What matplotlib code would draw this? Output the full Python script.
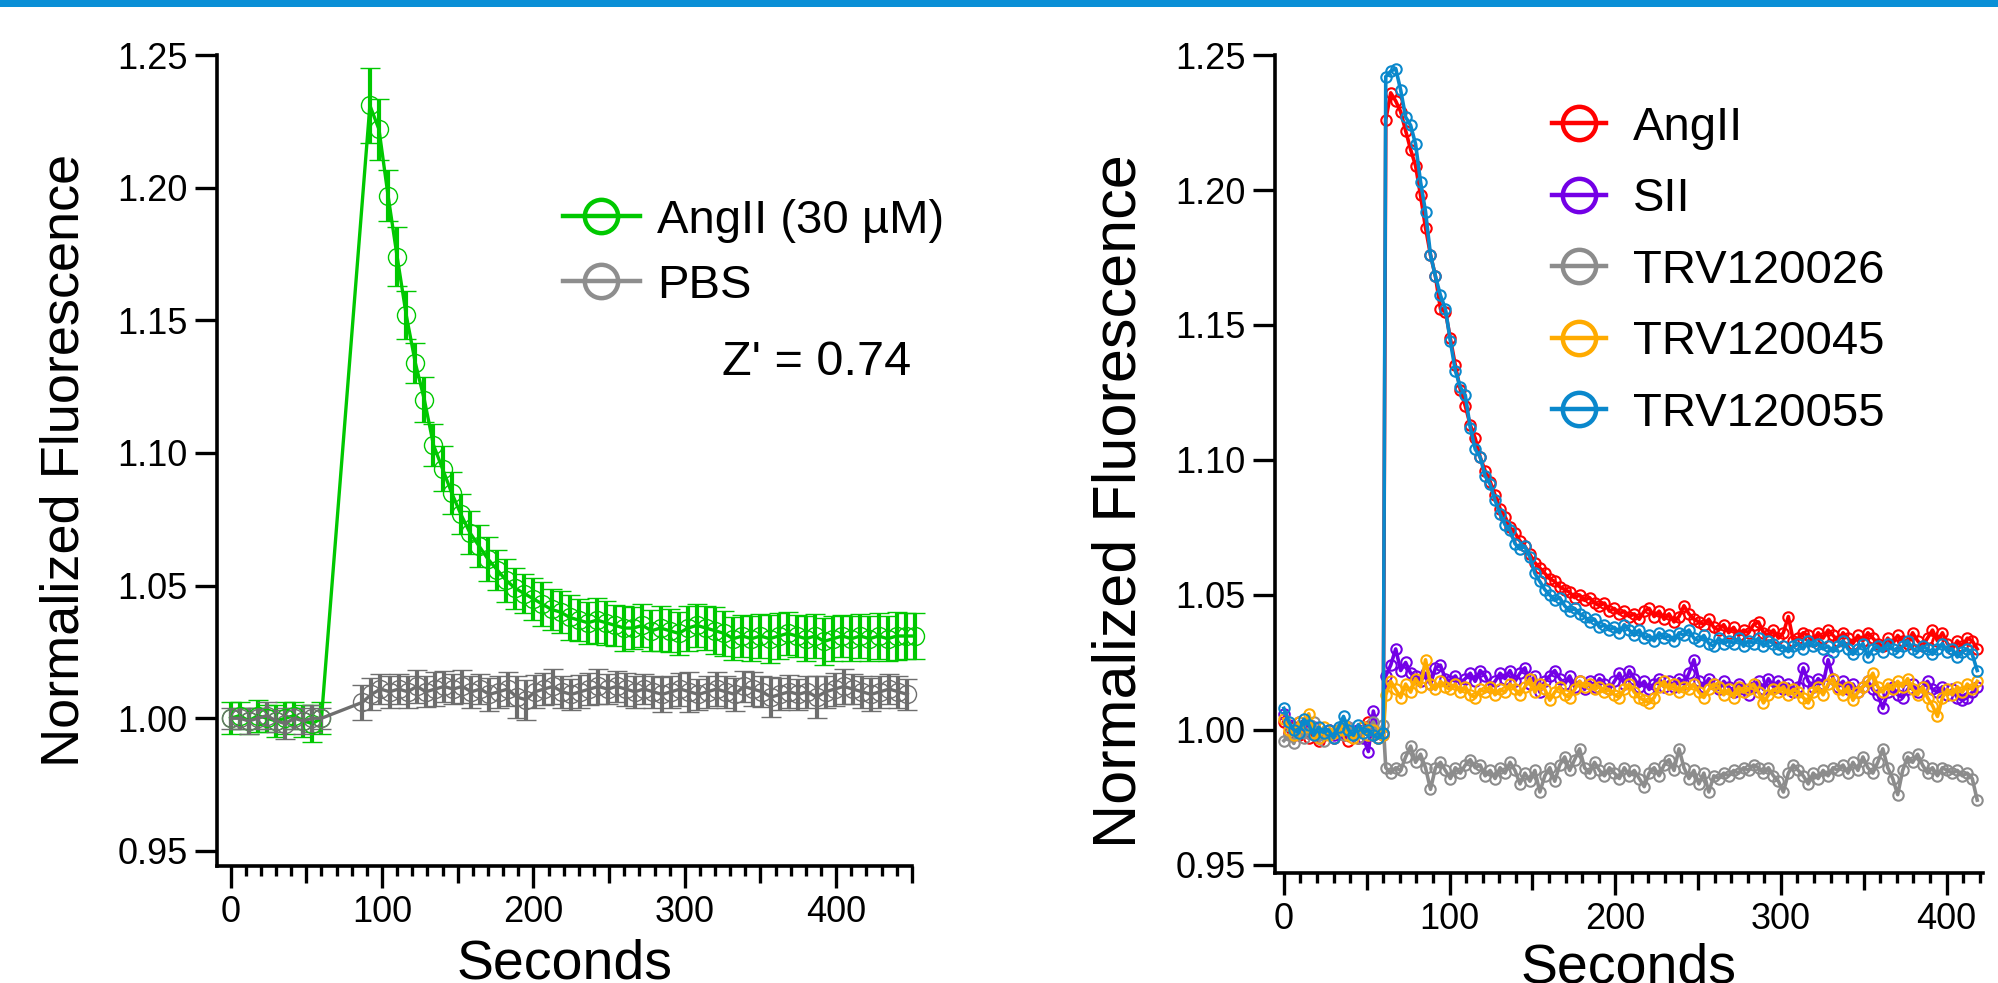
import numpy as np
import matplotlib
matplotlib.use('Agg')
import matplotlib.pyplot as plt
from matplotlib.lines import Line2D
from matplotlib.patches import Rectangle
from matplotlib.ticker import MultipleLocator, FixedLocator, FormatStrFormatter

plt.rcParams['font.family'] = ['Liberation Sans', 'DejaVu Sans']

# ---------------- left panel: AngII (30 uM) vs PBS, mean +/- SEM ----------------
base_t = np.arange(0, 61, 6)
ang_t_post = np.arange(92, 453, 6)
pbs_t_post = np.arange(87, 448, 6)

ang_base = [1.000, 1.001, 0.999, 1.001, 1.000, 0.999, 1.000, 1.001, 0.999, 0.998, 1.000]
ang_base_sem = [0.006, 0.005, 0.005, 0.006, 0.005, 0.006, 0.006, 0.005, 0.006, 0.007, 0.006]
ang_post = [
    1.231, 1.222, 1.197, 1.174, 1.152, 1.134, 1.120, 1.103, 1.094, 1.085,
    1.077, 1.070, 1.065, 1.060, 1.056, 1.052, 1.049, 1.047, 1.045, 1.043,
    1.041, 1.040, 1.038, 1.037, 1.036, 1.037, 1.036, 1.035, 1.034, 1.034,
    1.035, 1.033, 1.034, 1.033, 1.032, 1.034, 1.035, 1.034, 1.033, 1.032,
    1.030, 1.031, 1.030, 1.031, 1.030, 1.031, 1.032, 1.031, 1.030, 1.031,
    1.029, 1.030, 1.031, 1.030, 1.031, 1.030, 1.031, 1.030, 1.031, 1.031,
    1.031]
ang_post_sem = [
    0.014, 0.0115, 0.0095, 0.011, 0.009, 0.0075, 0.0085, 0.008, 0.0085, 0.008,
    0.0075, 0.008, 0.0078, 0.0082, 0.0075, 0.008, 0.0078, 0.0075, 0.008, 0.0082,
    0.0078, 0.008, 0.0085, 0.0078, 0.008, 0.0085, 0.0082, 0.0078, 0.0085, 0.008,
    0.0082, 0.0078, 0.0085, 0.008, 0.0082, 0.0085, 0.008, 0.0082, 0.0088, 0.0085,
    0.0082, 0.008, 0.0085, 0.0082, 0.009, 0.0085, 0.0082, 0.008, 0.0085, 0.0082,
    0.0088, 0.0085, 0.008, 0.0085, 0.0082, 0.0085, 0.0088, 0.0085, 0.009, 0.0088,
    0.0088]

pbs_base = [1.000, 1.000, 0.999, 1.000, 1.001, 0.999, 0.998, 1.000, 0.999, 1.000, 1.000]
pbs_base_sem = [0.004, 0.004, 0.005, 0.004, 0.005, 0.004, 0.006, 0.004, 0.005, 0.005, 0.004]
pbs_post = [
    1.006, 1.009, 1.011, 1.010, 1.011, 1.010, 1.012, 1.010, 1.011, 1.012,
    1.011, 1.012, 1.010, 1.011, 1.009, 1.010, 1.011, 1.008, 1.007, 1.010,
    1.011, 1.012, 1.010, 1.009, 1.010, 1.011, 1.012, 1.011, 1.012, 1.011,
    1.010, 1.011, 1.010, 1.009, 1.010, 1.011, 1.010, 1.009, 1.010, 1.011,
    1.010, 1.009, 1.012, 1.011, 1.010, 1.008, 1.009, 1.010, 1.009, 1.010,
    1.008, 1.010, 1.011, 1.012, 1.011, 1.010, 1.009, 1.010, 1.011, 1.010,
    1.009]
pbs_post_sem = [
    0.0065, 0.006, 0.0055, 0.006, 0.0058, 0.006, 0.0062, 0.0058, 0.0065, 0.006,
    0.0058, 0.0062, 0.006, 0.0058, 0.0062, 0.006, 0.0065, 0.0078, 0.0075, 0.0062,
    0.006, 0.0065, 0.006, 0.0058, 0.0062, 0.006, 0.0065, 0.0058, 0.006, 0.0062,
    0.006, 0.0058, 0.006, 0.0065, 0.006, 0.0062, 0.0075, 0.0058, 0.006, 0.0065,
    0.006, 0.0062, 0.006, 0.0065, 0.0058, 0.0075, 0.006, 0.0062, 0.0058, 0.006,
    0.0078, 0.006, 0.0062, 0.0065, 0.0058, 0.006, 0.0062, 0.006, 0.0058, 0.006,
    0.0058]

# ---------------- right panel: ligand traces ----------------
t_pre = np.arange(0, 61, 3)
t_post = np.arange(61.5, 420, 3)

angii_pre = [1.003, 0.999, 1.001, 0.998, 1.002, 0.997, 0.999, 0.996, 0.998, 1.000,
             0.997, 0.999, 0.998, 0.996, 0.999, 0.997, 1.001, 1.003, 0.998, 0.997, 0.999]
angii_post = [
    1.226, 1.236, 1.233, 1.229, 1.222, 1.215, 1.209, 1.198, 1.186, 1.176,
    1.168, 1.156, 1.155, 1.145, 1.135, 1.126, 1.120, 1.113, 1.108, 1.101,
    1.096, 1.092, 1.087, 1.082, 1.079, 1.075, 1.073, 1.070, 1.068, 1.065,
    1.062, 1.060, 1.058, 1.056, 1.055, 1.053, 1.052, 1.051, 1.049, 1.050,
    1.048, 1.049, 1.047, 1.046, 1.047, 1.044, 1.045, 1.043, 1.044, 1.042,
    1.043, 1.041, 1.044, 1.045, 1.042, 1.044, 1.041, 1.043, 1.040, 1.042,
    1.046, 1.043, 1.041, 1.040, 1.039, 1.041, 1.038, 1.037, 1.039, 1.036,
    1.038, 1.035, 1.037, 1.036, 1.039, 1.040, 1.036, 1.035, 1.037, 1.034,
    1.036, 1.042, 1.033, 1.034, 1.036, 1.035, 1.033, 1.036, 1.034, 1.037,
    1.035, 1.033, 1.036, 1.034, 1.032, 1.035, 1.033, 1.036, 1.034, 1.032,
    1.031, 1.034, 1.032, 1.035, 1.033, 1.032, 1.036, 1.033, 1.031, 1.034,
    1.037, 1.033, 1.036, 1.032, 1.030, 1.033, 1.031, 1.034, 1.033, 1.030]

sii_pre = [1.006, 1.002, 0.998, 1.003, 1.000, 0.999, 1.001, 0.997, 0.999, 1.000,
           0.998, 1.000, 0.999, 1.001, 0.998, 1.000, 0.997, 0.992, 1.007, 0.999, 0.998]
sii_post = [
    1.020, 1.024, 1.030, 1.022, 1.025, 1.021, 1.020, 1.018, 1.021, 1.017,
    1.023, 1.024, 1.019, 1.018, 1.020, 1.017, 1.019, 1.021, 1.018, 1.022,
    1.020, 1.016, 1.018, 1.021, 1.019, 1.022, 1.018, 1.021, 1.023, 1.017,
    1.020, 1.014, 1.018, 1.020, 1.022, 1.019, 1.017, 1.020, 1.016, 1.018,
    1.015, 1.018, 1.016, 1.019, 1.017, 1.015, 1.018, 1.021, 1.017, 1.022,
    1.019, 1.016, 1.018, 1.015, 1.017, 1.019, 1.016, 1.018, 1.016, 1.019,
    1.017, 1.021, 1.026, 1.018, 1.016, 1.019, 1.017, 1.015, 1.018, 1.016,
    1.014, 1.017, 1.015, 1.013, 1.016, 1.018, 1.015, 1.019, 1.016, 1.018,
    1.015, 1.017, 1.014, 1.016, 1.023, 1.018, 1.016, 1.019, 1.017, 1.026,
    1.019, 1.016, 1.018, 1.015, 1.017, 1.014, 1.016, 1.018, 1.015, 1.013,
    1.008, 1.014, 1.016, 1.013, 1.012, 1.015, 1.017, 1.014, 1.016, 1.018,
    1.015, 1.014, 1.016, 1.013, 1.015, 1.012, 1.011, 1.012, 1.014, 1.016]

trv26_pre = [0.996, 0.998, 0.995, 1.000, 0.997, 0.999, 1.003, 0.998, 0.996, 0.999,
             0.997, 1.000, 0.998, 1.001, 0.999, 0.997, 1.001, 1.000, 1.003, 0.999, 1.002]
trv26_post = [
    0.986, 0.984, 0.986, 0.985, 0.990, 0.994, 0.988, 0.991, 0.986, 0.978,
    0.986, 0.988, 0.985, 0.982, 0.986, 0.984, 0.987, 0.989, 0.986, 0.987,
    0.983, 0.985, 0.982, 0.986, 0.984, 0.988, 0.985, 0.980, 0.984, 0.981,
    0.985, 0.977, 0.983, 0.986, 0.981, 0.987, 0.990, 0.985, 0.989, 0.993,
    0.986, 0.984, 0.988, 0.985, 0.983, 0.986, 0.984, 0.982, 0.986, 0.983,
    0.985, 0.982, 0.979, 0.984, 0.986, 0.983, 0.987, 0.989, 0.985, 0.993,
    0.986, 0.982, 0.985, 0.980, 0.984, 0.977, 0.983, 0.982, 0.984, 0.983,
    0.985, 0.984, 0.986, 0.985, 0.987, 0.986, 0.984, 0.986, 0.983, 0.981,
    0.977, 0.984, 0.987, 0.985, 0.983, 0.980, 0.984, 0.982, 0.985, 0.983,
    0.986, 0.985, 0.987, 0.984, 0.988, 0.985, 0.990, 0.986, 0.984, 0.988,
    0.993, 0.986, 0.982, 0.976, 0.985, 0.990, 0.988, 0.991, 0.987, 0.984,
    0.986, 0.983, 0.986, 0.985, 0.984, 0.985, 0.983, 0.984, 0.982, 0.974]

trv45_pre = [1.004, 1.000, 0.998, 1.003, 1.001, 1.006, 0.999, 0.997, 1.001, 0.998,
             0.999, 1.000, 1.002, 0.998, 0.997, 0.999, 1.001, 0.998, 1.000, 0.997, 0.998]
trv45_post = [
    1.013, 1.018, 1.015, 1.012, 1.017, 1.014, 1.019, 1.016, 1.026, 1.017,
    1.015, 1.018, 1.016, 1.015, 1.017, 1.014, 1.016, 1.013, 1.012, 1.015,
    1.014, 1.016, 1.013, 1.015, 1.014, 1.017, 1.015, 1.013, 1.016, 1.019,
    1.014, 1.017, 1.015, 1.011, 1.014, 1.016, 1.013, 1.012, 1.015, 1.018,
    1.016, 1.017, 1.015, 1.016, 1.014, 1.015, 1.013, 1.012, 1.015, 1.017,
    1.014, 1.012, 1.011, 1.010, 1.012, 1.016, 1.018, 1.015, 1.017, 1.014,
    1.016, 1.015, 1.017, 1.014, 1.012, 1.015, 1.017, 1.016, 1.013, 1.015,
    1.012, 1.016, 1.014, 1.015, 1.017, 1.014, 1.010, 1.013, 1.015, 1.014,
    1.016, 1.013, 1.015, 1.014, 1.012, 1.010, 1.014, 1.016, 1.013, 1.017,
    1.019, 1.015, 1.013, 1.016, 1.011, 1.014, 1.016, 1.018, 1.021, 1.016,
    1.014, 1.017, 1.015, 1.018, 1.016, 1.019, 1.015, 1.013, 1.016, 1.012,
    1.009, 1.005, 1.012, 1.015, 1.013, 1.016, 1.014, 1.017, 1.015, 1.018]

trv55_pre = [1.008, 1.003, 1.000, 0.999, 1.004, 1.002, 0.998, 1.001, 0.999, 1.000,
             0.997, 1.001, 1.005, 1.000, 0.998, 1.002, 0.999, 1.000, 0.998, 0.997, 0.999]
trv55_post = [
    1.242, 1.244, 1.245, 1.237, 1.227, 1.224, 1.217, 1.203, 1.192, 1.176,
    1.168, 1.161, 1.156, 1.144, 1.133, 1.127, 1.124, 1.112, 1.104, 1.101,
    1.094, 1.091, 1.085, 1.080, 1.076, 1.074, 1.069, 1.067, 1.068, 1.064,
    1.058, 1.055, 1.052, 1.050, 1.048, 1.049, 1.046, 1.044, 1.045, 1.043,
    1.042, 1.040, 1.041, 1.038, 1.039, 1.037, 1.038, 1.036, 1.039, 1.037,
    1.035, 1.037, 1.034, 1.035, 1.033, 1.036, 1.034, 1.035, 1.033, 1.036,
    1.035, 1.037, 1.034, 1.033, 1.035, 1.032, 1.031, 1.034, 1.032, 1.033,
    1.032, 1.034, 1.031, 1.033, 1.032, 1.034, 1.031, 1.033, 1.032, 1.030,
    1.031, 1.029, 1.031, 1.032, 1.030, 1.033, 1.031, 1.032, 1.030, 1.031,
    1.029, 1.031, 1.033, 1.030, 1.028, 1.030, 1.032, 1.027, 1.030, 1.031,
    1.029, 1.032, 1.030, 1.029, 1.031, 1.033, 1.030, 1.029, 1.031, 1.030,
    1.028, 1.030, 1.032, 1.029, 1.030, 1.027, 1.029, 1.030, 1.028, 1.022]

right_series = [
    ('AngII', '#ff0000', angii_pre, angii_post),
    ('SII', '#7300e6', sii_pre, sii_post),
    ('TRV120026', '#8c8c8c', trv26_pre, trv26_post),
    ('TRV120045', '#ffab00', trv45_pre, trv45_post),
    ('TRV120055', '#0a88cc', trv55_pre, trv55_post),
]

y_ticks = [0.95, 1.00, 1.05, 1.10, 1.15, 1.20, 1.25]
GREEN = '#00c800'
GREY_DATA = '#6e6e6e'
GREY_KEY = '#8e8e8e'


def style_axes(ax, xlim, ylim, label_size, xpad):
    for side in ('top', 'right'):
        ax.spines[side].set_visible(False)
    for side in ('left', 'bottom'):
        ax.spines[side].set_linewidth(2.6)
    ax.set_xlim(*xlim)
    ax.set_ylim(*ylim)
    ax.yaxis.set_major_locator(FixedLocator(y_ticks))
    ax.yaxis.set_major_formatter(FormatStrFormatter('%.2f'))
    ax.xaxis.set_major_locator(MultipleLocator(100))
    minor = [v for v in range(10, int(xlim[1]) + 1, 10) if v % 50]
    ax.xaxis.set_minor_locator(FixedLocator(minor))
    ax.tick_params(axis='both', which='major', length=16, width=2.4,
                   labelsize=26, color='black')
    ax.tick_params(axis='x', which='major', pad=5)
    ax.tick_params(axis='y', which='major', pad=5)
    ax.tick_params(axis='x', which='minor', length=7, width=2.4)
    # half-hundred ticks are a bit longer than the tens
    sec = ax.secondary_xaxis('bottom')
    sec.set_xticks([v for v in range(50, int(xlim[1]) + 1, 100)])
    sec.tick_params(length=12, width=2.4, labelbottom=False)
    sec.spines['bottom'].set_visible(False)
    ax.set_xlabel('Seconds', fontsize=40, labelpad=xpad)
    ax.set_ylabel('Normalized Fluorescence', fontsize=label_size)


fig = plt.figure(figsize=(19.98, 9.83), dpi=100)
fig.add_artist(Rectangle((0, 1 - 7 / 983), 1, 7 / 983, transform=fig.transFigure,
                         color='#0a8fd6', lw=0))

ax1 = fig.add_axes([0.1086, 0.1190, 0.3478, 0.8250])
ax2 = fig.add_axes([0.6381, 0.1119, 0.3544, 0.8321])

# left panel
for t_a, y_a, e_a, col in [
        (np.concatenate([base_t, ang_t_post]), ang_base + ang_post,
         ang_base_sem + ang_post_sem, GREEN),
        (np.concatenate([base_t, pbs_t_post]), pbs_base + pbs_post,
         pbs_base_sem + pbs_post_sem, GREY_DATA)]:
    cont = ax1.errorbar(t_a, y_a, yerr=e_a, fmt='-o', color=col, ecolor=col,
                        lw=2.4, elinewidth=3.0, capsize=7.5, capthick=3.0,
                        ms=13, mfc='none', mec=col, mew=1.0)
    for art in cont.get_children():
        art.set_clip_on(False)

style_axes(ax1, (-9, 450), (0.9443, 1.25), 39, 6)
ax1.yaxis.set_label_coords(-0.184, 0.5)

left_handles = [
    Line2D([], [], color=GREEN, lw=3.2, marker='o', ms=24, mfc='none', mew=3.2),
    Line2D([], [], color=GREY_KEY, lw=3.2, marker='o', ms=24, mfc='none', mew=3.2),
]
fig.legend(left_handles, ['AngII (30 µM)', 'PBS'], loc='upper left',
           bbox_to_anchor=(563 / 1998, 1 - 199 / 983), frameon=False, fontsize=34,
           handlelength=1.63, handletextpad=0.37, labelspacing=0.44,
           borderpad=0, borderaxespad=0)
fig.text(722 / 1998, 1 - 375 / 983, "Z' = 0.74", fontsize=35, va='baseline')

# right panel
right_handles = []
for name, col, pre, post in right_series:
    ax2.plot(np.concatenate([t_pre, t_post]), pre + post, '-o', color=col, lw=2.6,
             ms=7.5, mfc='none', mec=col, mew=1.5, clip_on=False)
    right_handles.append(Line2D([], [], color=col, lw=3.2, marker='o', ms=24,
                                mfc='none', mew=3.2))

style_axes(ax2, (-5.4, 422), (0.947, 1.25), 44, 4)
ax2.yaxis.set_label_coords(-0.179, 0.455)

fig.legend(right_handles, [s[0] for s in right_series], loc='upper left',
           bbox_to_anchor=(1552 / 1998, 1 - 106 / 983), frameon=False, fontsize=34,
           handlelength=1.15, handletextpad=0.57, labelspacing=0.58,
           borderpad=0, borderaxespad=0)

fig.savefig('out.png', dpi=100)
